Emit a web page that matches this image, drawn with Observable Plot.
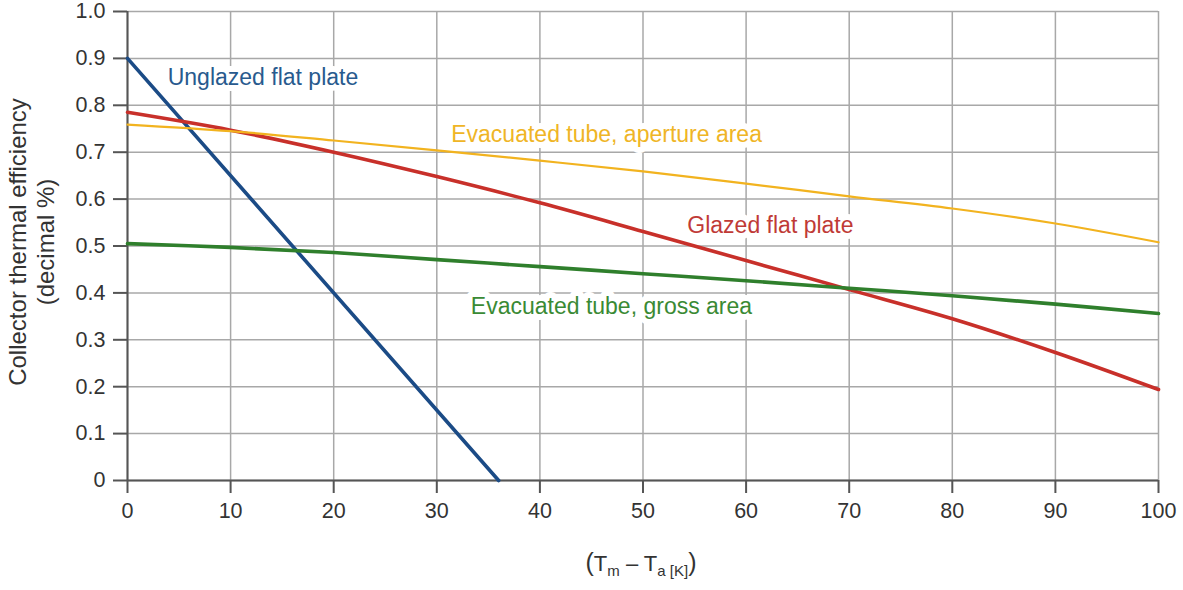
<!DOCTYPE html>
<html>
<head>
<meta charset="utf-8">
<script src="https://cdn.jsdelivr.net/npm/d3@7"></script>
<script src="https://cdn.jsdelivr.net/npm/@observablehq/plot@0.6"></script>
<style>
  html, body { margin: 0; padding: 0; background: #fff; }
  #chart { width: 1183px; height: 590px; }
</style>
</head>
<body>
<div id="chart"></div>
<script>
// ---- data ----
const xValues = [0, 10, 20, 30, 40, 50, 60, 70, 80, 90, 100];
const glazed = [0.785, 0.747, 0.700, 0.648, 0.592, 0.531, 0.469, 0.407, 0.345, 0.273, 0.194];
const aperture = [0.759, 0.745, 0.725, 0.704, 0.682, 0.659, 0.633, 0.606, 0.580, 0.548, 0.508];
const gross = [0.505, 0.497, 0.486, 0.471, 0.456, 0.441, 0.426, 0.410, 0.394, 0.376, 0.356];
const unglazedX = [0, 36];
const unglazed = [0.9, 0];

const xTicks = [0, 10, 20, 30, 40, 50, 60, 70, 80, 90, 100];
const yTicks = [0, 0.1, 0.2, 0.3, 0.4, 0.5, 0.6, 0.7, 0.8, 0.9, 1.0];

const labelNames = ["Unglazed flat plate", "Evacuated tube, aperture area", "Glazed flat plate", "Evacuated tube, gross area"];
const labelX = [3.9, 31.4, 54.3, 33.3];
const labelY = [0.859, 0.738, 0.544, 0.371];
const labelColors = ["#285a8e", "#efb526", "#c03a36", "#3a8a34"];

const yTitle = ["Collector thermal efficiency", "(decimal %)"];

// ---- build tables ----
const series = [
  {name: "Unglazed", xs: unglazedX, ys: unglazed, color: "#1b4b86", width: 3.6},
  {name: "Glazed", xs: xValues, ys: glazed, color: "#c8302a", width: 3.6},
  {name: "Aperture", xs: xValues, ys: aperture, color: "#f2b31f", width: 2.2},
  {name: "Gross", xs: xValues, ys: gross, color: "#2f7f2c", width: 3.6}
];
const labels = labelNames.map((t, i) => ({t, x: labelX[i], y: labelY[i], c: labelColors[i]}));

const lineMarks = series.map(s =>
  Plot.line(s.xs.map((x, i) => ({x, y: s.ys[i]})), {
    x: "x", y: "y", stroke: s.color, strokeWidth: s.width, curve: "catmull-rom"
  })
);

const chart = Plot.plot({
  width: 1183,
  height: 590,
  marginLeft: 127,
  marginRight: 25,
  marginTop: 11,
  marginBottom: 110,
  style: {fontFamily: "'Liberation Sans', Arial, sans-serif", fontSize: "21.5px", background: "#fff"},
  x: {domain: [0, 100]},
  y: {domain: [0, 1]},
  marks: [
    Plot.gridX(xTicks, {stroke: "#a8a8a8", strokeOpacity: 1, strokeWidth: 1.5}),
    Plot.gridY(yTicks, {stroke: "#a8a8a8", strokeOpacity: 1, strokeWidth: 1.5}),
    Plot.text(labels, {
      x: "x", y: "y", text: "t", fill: "c", textAnchor: "start",
      fontSize: 23, stroke: "white", strokeWidth: 12, strokeLinejoin: "round"
    }),
    Plot.ruleX([0], {stroke: "#555", strokeWidth: 2}),
    Plot.ruleY([0], {stroke: "#555", strokeWidth: 2}),
    Plot.axisX({ticks: xTicks, tickSize: 13, tickPadding: 9, fontSize: 21.5, label: null, stroke: "#555", strokeWidth: 2, fill: "#333"}),
    Plot.axisY({ticks: yTicks, tickSize: 14, tickPadding: 8, fontSize: 21.5, label: null, stroke: "#555", strokeWidth: 2, fill: "#333",
      tickFormat: d => d === 0 ? "0" : d.toFixed(1)}),
    ...lineMarks
  ]
});

document.getElementById("chart").appendChild(chart);

// axis titles
const svg = d3.select(chart);
const yt = svg.append("g")
  .attr("transform", "translate(0,242) rotate(-90)")
  .attr("font-family", "'Liberation Sans', Arial, sans-serif")
  .attr("font-size", 24)
  .attr("fill", "#333")
  .attr("text-anchor", "middle");
yt.append("text").attr("x", 0).attr("y", 26).text(yTitle[0]);
yt.append("text").attr("x", 0).attr("y", 54).text(yTitle[1]);

const xt = svg.append("text")
  .attr("x", 641).attr("y", 571)
  .attr("font-family", "'Liberation Sans', Arial, sans-serif")
  .attr("font-size", 22)
  .attr("fill", "#333")
  .attr("text-anchor", "middle");
xt.append("tspan").attr("font-size", 25).text("(");
xt.append("tspan").text("T");
xt.append("tspan").attr("font-size", 15).attr("dy", 5).text("m");
xt.append("tspan").attr("dy", -5).text(" \u2013 T");
xt.append("tspan").attr("font-size", 15).attr("dy", 5).text("a [K]");
xt.append("tspan").attr("font-size", 25).attr("dy", -5).text(")");
</script>
</body>
</html>
